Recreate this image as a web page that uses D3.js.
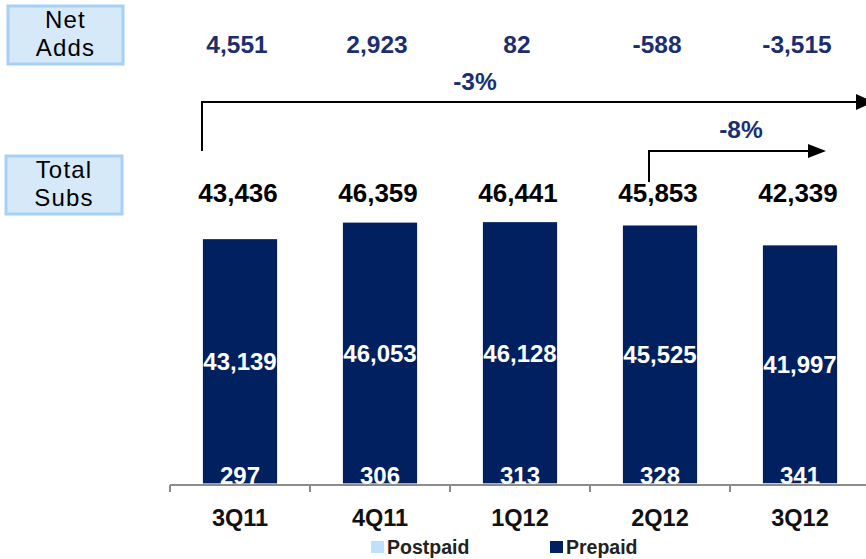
<!DOCTYPE html>
<html>
<head>
<meta charset="utf-8">
<script src="https://cdn.jsdelivr.net/npm/d3@7"></script>
<style>
  html, body { margin: 0; padding: 0; background: #ffffff; }
  svg { display: block; }
  text { font-family: "Liberation Sans", Arial, sans-serif; }
</style>
</head>
<body>
<svg id="chart" width="866" height="559"></svg>
<script>
// Quarterly subscriber base (thousands)
const quarters = ["3Q11", "4Q11", "1Q12", "2Q12", "3Q12"];
const postpaid = [297, 306, 313, 328, 341];
const prepaid = [43139, 46053, 46128, 45525, 41997];
const totalSubs = [43436, 46359, 46441, 45853, 42339];
const netAdds = [4551, 2923, 82, -588, -3515];
const seriesNames = ["Postpaid", "Prepaid"];
const growthLabels = ["-3%", "-8%"];
const sideLabels = [["Net", "Adds"], ["Total", "Subs"]];

const svg = d3.select("#chart");
const navy = "#002060";
const lightBlue = "#bfe0fb";
const textNavy = "#1c2e6e";
// thousands separator with a plain hyphen for negatives
const fmt = v => d3.format(",")(v).replace("\u2212", "-");

const x = d3.scaleBand().domain(quarters).range([170, 870]).padding(0);
const barW = x.bandwidth() * 0.53;
const y = d3.scaleLinear().domain([0, 50000]).range([485, 202]);

const rows = quarters.map((q, i) => ({ q, Postpaid: postpaid[i], Prepaid: prepaid[i] }));
const stack = d3.stack().keys(seriesNames)(rows);
const colors = d3.scaleOrdinal().domain(seriesNames).range([lightBlue, navy]);

// Stacked bars
const layers = svg.append("g").selectAll("g").data(stack).join("g")
  .attr("fill", d => colors(d.key));
layers.selectAll("rect").data(d => d).join("rect")
  .attr("x", d => x(d.data.q) + (x.bandwidth() - barW) / 2)
  .attr("width", barW)
  .attr("y", d => y(d[1]))
  .attr("height", d => y(d[0]) - y(d[1]));

// Axis
const axisG = svg.append("g").attr("transform", "translate(0,485)")
  .call(d3.axisBottom(x).tickSize(0).tickFormat(""));
axisG.select(".domain").attr("stroke", "#8c8c8c").attr("stroke-width", 2)
  .attr("d", "M170,0H866");
axisG.selectAll(".tick").remove();
// Tick marks at band boundaries
const bounds = quarters.map(q => x(q));
svg.append("g").selectAll("line").data(bounds).join("line")
  .attr("x1", d => d).attr("x2", d => d)
  .attr("y1", 485).attr("y2", 492)
  .attr("stroke", "#8c8c8c").attr("stroke-width", 2);

const cx = q => x(q) + x.bandwidth() / 2;

// Category labels
svg.append("g").selectAll("text").data(quarters).join("text")
  .attr("x", d => cx(d)).attr("y", 526)
  .attr("text-anchor", "middle")
  .attr("font-size", 23.5).attr("font-weight", "bold").attr("fill", "#111")
  .text(d => d);

// Prepaid labels (centred in segment)
svg.append("g").selectAll("text").data(stack[1]).join("text")
  .attr("x", d => cx(d.data.q)).attr("y", d => (y(d[0]) + y(d[1])) / 2 + 9)
  .attr("text-anchor", "middle")
  .attr("font-size", 24).attr("font-weight", "bold").attr("fill", "#ffffff")
  .text(d => fmt(d.data.Prepaid));

// Postpaid labels (at bar base)
svg.append("g").selectAll("text").data(stack[0]).join("text")
  .attr("x", d => cx(d.data.q)).attr("y", d => y(d[0]) - 1)
  .attr("text-anchor", "middle")
  .attr("font-size", 24).attr("font-weight", "bold").attr("fill", "#ffffff")
  .text(d => fmt(d.data.Postpaid));

// Total subscribers
svg.append("g").selectAll("text").data(totalSubs).join("text")
  .attr("x", (d, i) => cx(quarters[i]) - 2).attr("y", 202)
  .attr("text-anchor", "middle")
  .attr("font-size", 26).attr("font-weight", "bold").attr("fill", "#000")
  .text(d => fmt(d));

// Net adds
svg.append("g").selectAll("text").data(netAdds).join("text")
  .attr("x", (d, i) => cx(quarters[i]) - 3).attr("y", 53)
  .attr("text-anchor", "middle")
  .attr("font-size", 24.5).attr("font-weight", "bold").attr("fill", textNavy)
  .text(d => fmt(d));

// Growth arrows
function arrow(x0, yBottom, yLine, xEnd, head, half) {
  const g = svg.append("g");
  g.append("path")
    .attr("d", `M${x0},${yBottom}V${yLine}H${xEnd}`)
    .attr("fill", "none").attr("stroke", "#000").attr("stroke-width", 2);
  g.append("path")
    .attr("d", `M${xEnd - 1},${yLine - half}L${xEnd + head},${yLine}L${xEnd - 1},${yLine + half}Z`)
    .attr("fill", "#000");
}
arrow(x(quarters[0]) + 32, 151, 102, 857, 17, 8);
arrow(x(quarters[3]) + 59, 182, 151, 809, 17, 7);

svg.append("text").attr("x", 475).attr("y", 90).attr("text-anchor", "middle")
  .attr("font-size", 24.5).attr("font-weight", "bold").attr("fill", textNavy)
  .text(growthLabels[0]);
svg.append("text").attr("x", 741).attr("y", 138).attr("text-anchor", "middle")
  .attr("font-size", 24.5).attr("font-weight", "bold").attr("fill", textNavy)
  .text(growthLabels[1]);

// Side boxes
const boxes = [{ x: 8, y: 6, w: 115, h: 58 }, { x: 6, y: 156, w: 116, h: 58 }];
boxes.forEach((b, i) => {
  svg.append("rect").attr("x", b.x).attr("y", b.y).attr("width", b.w).attr("height", b.h)
    .attr("fill", "#d6e9f9").attr("stroke", "#a6d0f6").attr("stroke-width", 3);
  svg.append("text").attr("x", b.x + b.w / 2).attr("y", b.y + 22)
    .attr("text-anchor", "middle")
    .attr("font-family", "'DejaVu Sans', Verdana, sans-serif")
    .attr("font-size", 24).attr("letter-spacing", 1.2).attr("fill", "#000")
    .selectAll("tspan").data(sideLabels[i]).join("tspan")
    .attr("x", b.x + b.w / 2).attr("dy", (d, j) => j === 0 ? 0 : 28)
    .text(d => d);
});

// Legend
const legendX = [371, 550];
const lg = svg.append("g").selectAll("g").data(seriesNames).join("g")
  .attr("transform", (d, i) => `translate(${legendX[i]},541)`);
lg.append("rect").attr("width", 13).attr("height", 12).attr("fill", d => colors(d));
lg.append("text").attr("x", 16).attr("y", 12.5)
  .attr("font-size", 19.5).attr("font-weight", "bold").attr("fill", "#222")
  .text(d => d);
</script>
</body>
</html>
